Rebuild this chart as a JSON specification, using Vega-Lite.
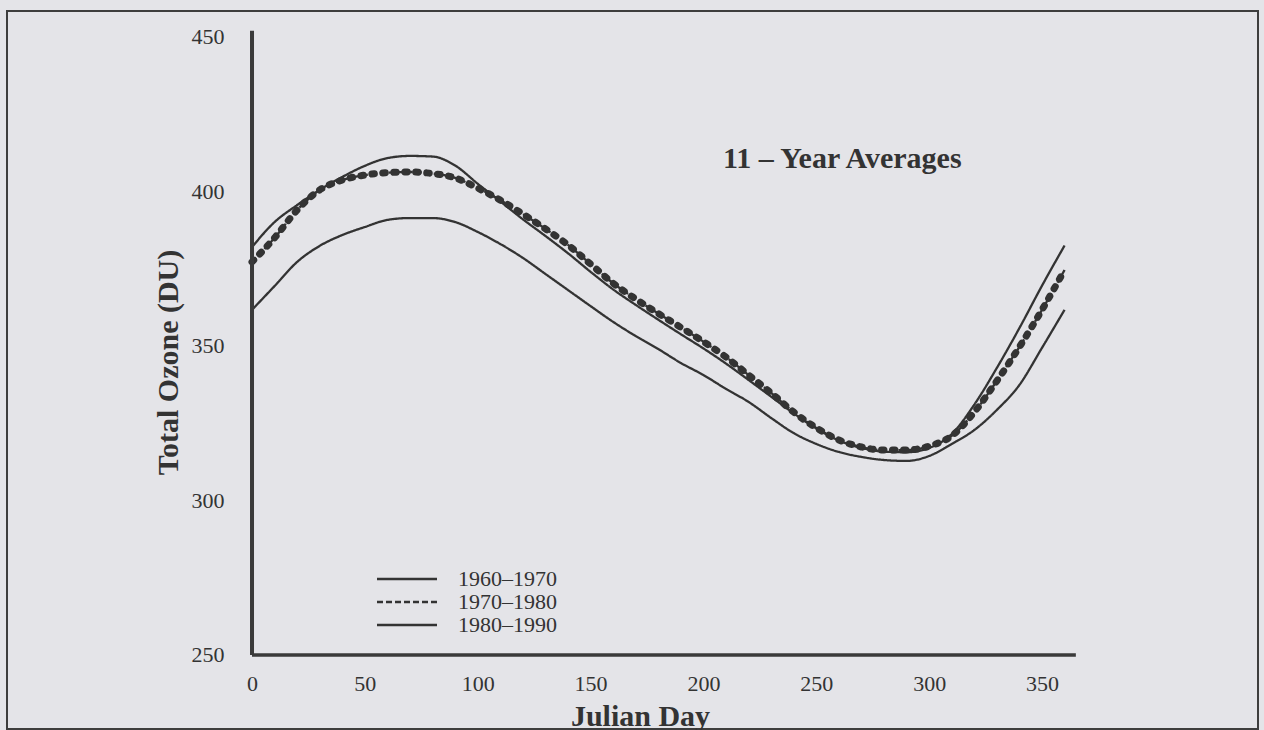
{
  "$schema": "https://vega.github.io/schema/vega-lite/v6.json",
  "width": 1251,
  "height": 718,
  "autosize": {"type": "none"},
  "padding": {"left": 7, "top": 11, "right": 6, "bottom": 1},
  "background": "#e4e4e8",
  "config": {
    "view": {"stroke": "#3d3d3d", "strokeWidth": 2},
    "font": "Liberation Serif",
    "axis": {"labelFont": "Liberation Serif", "titleFont": "Liberation Serif", "labelColor": "#333333", "titleColor": "#333333"}
  },
  "title": {
    "text": "11 – Year Averages",
    "font": "Liberation Serif",
    "fontSize": 30,
    "fontWeight": "bold",
    "color": "#333333",
    "anchor": "start",
    "orient": "top",
    "frame": "group",
    "offset": 0,
    "dx": 716,
    "dy": 187,
    "baseline": "alphabetic"
  },
  "data": {
    "values": [
      {"period": "1960–1970", "day": 0, "ozone": 382.0},
      {"period": "1960–1970", "day": 10, "ozone": 390.1},
      {"period": "1960–1970", "day": 20, "ozone": 395.6},
      {"period": "1960–1970", "day": 30, "ozone": 400.5},
      {"period": "1960–1970", "day": 40, "ozone": 404.7},
      {"period": "1960–1970", "day": 50, "ozone": 408.3},
      {"period": "1960–1970", "day": 60, "ozone": 410.8},
      {"period": "1960–1970", "day": 70, "ozone": 411.5},
      {"period": "1960–1970", "day": 80, "ozone": 411.3},
      {"period": "1960–1970", "day": 90, "ozone": 408.4},
      {"period": "1960–1970", "day": 100, "ozone": 402.5},
      {"period": "1960–1970", "day": 110, "ozone": 396.8},
      {"period": "1960–1970", "day": 120, "ozone": 391.0},
      {"period": "1960–1970", "day": 130, "ozone": 385.6},
      {"period": "1960–1970", "day": 140, "ozone": 380.0},
      {"period": "1960–1970", "day": 150, "ozone": 374.0},
      {"period": "1960–1970", "day": 160, "ozone": 368.3},
      {"period": "1960–1970", "day": 170, "ozone": 363.3},
      {"period": "1960–1970", "day": 180, "ozone": 358.5},
      {"period": "1960–1970", "day": 190, "ozone": 353.8},
      {"period": "1960–1970", "day": 200, "ozone": 349.2},
      {"period": "1960–1970", "day": 210, "ozone": 344.3},
      {"period": "1960–1970", "day": 220, "ozone": 339.0},
      {"period": "1960–1970", "day": 230, "ozone": 333.6},
      {"period": "1960–1970", "day": 240, "ozone": 328.2},
      {"period": "1960–1970", "day": 250, "ozone": 323.3},
      {"period": "1960–1970", "day": 260, "ozone": 319.4},
      {"period": "1960–1970", "day": 270, "ozone": 317.0},
      {"period": "1960–1970", "day": 280, "ozone": 315.8},
      {"period": "1960–1970", "day": 290, "ozone": 315.6},
      {"period": "1960–1970", "day": 300, "ozone": 317.0},
      {"period": "1960–1970", "day": 310, "ozone": 321.5},
      {"period": "1960–1970", "day": 320, "ozone": 331.0},
      {"period": "1960–1970", "day": 330, "ozone": 342.9},
      {"period": "1960–1970", "day": 340, "ozone": 355.8},
      {"period": "1960–1970", "day": 350, "ozone": 369.5},
      {"period": "1960–1970", "day": 360, "ozone": 382.5},
      {"period": "1970–1980", "day": 0, "ozone": 377.2},
      {"period": "1970–1980", "day": 10, "ozone": 385.0},
      {"period": "1970–1980", "day": 20, "ozone": 394.0},
      {"period": "1970–1980", "day": 30, "ozone": 400.5},
      {"period": "1970–1980", "day": 40, "ozone": 403.7},
      {"period": "1970–1980", "day": 50, "ozone": 405.3},
      {"period": "1970–1980", "day": 60, "ozone": 406.1},
      {"period": "1970–1980", "day": 70, "ozone": 406.3},
      {"period": "1970–1980", "day": 80, "ozone": 405.8},
      {"period": "1970–1980", "day": 90, "ozone": 404.4},
      {"period": "1970–1980", "day": 100, "ozone": 401.1},
      {"period": "1970–1980", "day": 110, "ozone": 397.2},
      {"period": "1970–1980", "day": 120, "ozone": 392.7},
      {"period": "1970–1980", "day": 130, "ozone": 387.9},
      {"period": "1970–1980", "day": 140, "ozone": 382.7},
      {"period": "1970–1980", "day": 150, "ozone": 376.5},
      {"period": "1970–1980", "day": 160, "ozone": 370.3},
      {"period": "1970–1980", "day": 170, "ozone": 365.2},
      {"period": "1970–1980", "day": 180, "ozone": 360.5},
      {"period": "1970–1980", "day": 190, "ozone": 356.0},
      {"period": "1970–1980", "day": 200, "ozone": 351.4},
      {"period": "1970–1980", "day": 210, "ozone": 346.4},
      {"period": "1970–1980", "day": 220, "ozone": 340.6},
      {"period": "1970–1980", "day": 230, "ozone": 334.8},
      {"period": "1970–1980", "day": 240, "ozone": 328.6},
      {"period": "1970–1980", "day": 250, "ozone": 323.5},
      {"period": "1970–1980", "day": 260, "ozone": 319.6},
      {"period": "1970–1980", "day": 270, "ozone": 317.3},
      {"period": "1970–1980", "day": 280, "ozone": 316.3},
      {"period": "1970–1980", "day": 290, "ozone": 316.3},
      {"period": "1970–1980", "day": 300, "ozone": 317.6},
      {"period": "1970–1980", "day": 310, "ozone": 320.9},
      {"period": "1970–1980", "day": 320, "ozone": 328.6},
      {"period": "1970–1980", "day": 330, "ozone": 338.7},
      {"period": "1970–1980", "day": 340, "ozone": 349.7},
      {"period": "1970–1980", "day": 350, "ozone": 361.7},
      {"period": "1970–1980", "day": 360, "ozone": 374.6},
      {"period": "1980–1990", "day": 0, "ozone": 361.7},
      {"period": "1980–1990", "day": 10, "ozone": 369.4},
      {"period": "1980–1990", "day": 20, "ozone": 377.2},
      {"period": "1980–1990", "day": 30, "ozone": 382.4},
      {"period": "1980–1990", "day": 40, "ozone": 385.9},
      {"period": "1980–1990", "day": 50, "ozone": 388.5},
      {"period": "1980–1990", "day": 60, "ozone": 390.8},
      {"period": "1980–1990", "day": 70, "ozone": 391.4},
      {"period": "1980–1990", "day": 80, "ozone": 391.4},
      {"period": "1980–1990", "day": 90, "ozone": 390.1},
      {"period": "1980–1990", "day": 100, "ozone": 386.9},
      {"period": "1980–1990", "day": 110, "ozone": 383.0},
      {"period": "1980–1990", "day": 120, "ozone": 378.5},
      {"period": "1980–1990", "day": 130, "ozone": 373.3},
      {"period": "1980–1990", "day": 140, "ozone": 368.1},
      {"period": "1980–1990", "day": 150, "ozone": 362.9},
      {"period": "1980–1990", "day": 160, "ozone": 357.8},
      {"period": "1980–1990", "day": 170, "ozone": 353.2},
      {"period": "1980–1990", "day": 180, "ozone": 349.0},
      {"period": "1980–1990", "day": 190, "ozone": 344.5},
      {"period": "1980–1990", "day": 200, "ozone": 340.6},
      {"period": "1980–1990", "day": 210, "ozone": 336.1},
      {"period": "1980–1990", "day": 220, "ozone": 331.9},
      {"period": "1980–1990", "day": 230, "ozone": 326.7},
      {"period": "1980–1990", "day": 240, "ozone": 321.8},
      {"period": "1980–1990", "day": 250, "ozone": 318.3},
      {"period": "1980–1990", "day": 260, "ozone": 315.7},
      {"period": "1980–1990", "day": 270, "ozone": 314.1},
      {"period": "1980–1990", "day": 280, "ozone": 313.1},
      {"period": "1980–1990", "day": 290, "ozone": 312.8},
      {"period": "1980–1990", "day": 300, "ozone": 314.4},
      {"period": "1980–1990", "day": 310, "ozone": 318.3},
      {"period": "1980–1990", "day": 320, "ozone": 322.8},
      {"period": "1980–1990", "day": 330, "ozone": 329.3},
      {"period": "1980–1990", "day": 340, "ozone": 337.4},
      {"period": "1980–1990", "day": 350, "ozone": 349.4},
      {"period": "1980–1990", "day": 360, "ozone": 361.7}
    ]
  },
  "layer": [
    {
      "mark": {"type": "line", "interpolate": "monotone", "color": "#333333", "strokeWidth": 2.3},
      "encoding": {
        "x": {
          "field": "day", "type": "quantitative",
          "scale": {"domain": [-108.55, 445.7], "nice": false, "zero": false},
          "axis": {
            "values": [0, 50, 100, 150, 200, 250, 300, 350],
            "offset": -74, "domain": false, "ticks": false, "grid": false,
            "labelFontSize": 22, "labelPadding": 18, "labelFlush": false, "labelOverlap": false,
            "title": "Julian Day", "titleFontSize": 30, "titleFontWeight": "bold",
            "titleX": 633, "titleY": 70, "titleBaseline": "alphabetic", "titleAlign": "center"
          }
        },
        "y": {
          "field": "ozone", "type": "quantitative",
          "scale": {"domain": [226.05, 458.4], "nice": false, "zero": false},
          "axis": {
            "values": [250, 300, 350, 400, 450],
            "offset": -245, "domain": false, "ticks": false, "grid": false,
            "labelFontSize": 22, "labelPadding": 28, "labelFlush": false, "labelOverlap": false,
            "title": "Total Ozone (DU)", "titleFontSize": 30, "titleFontWeight": "bold",
            "titleX": -84, "titleY": 351, "titleBaseline": "middle", "titleAlign": "center", "titleAngle": -90
          }
        },
        "strokeDash": {
          "field": "period", "type": "nominal",
          "scale": {"domain": ["1960–1970", "1970–1980", "1980–1990"], "range": [[1, 0], [6, 3], [1, 0]]},
          "legend": {
            "title": null, "orient": "none", "legendX": 389, "legendY": 557, "padding": 0,
            "symbolType": "M-4,0H4", "symbolSize": 225, "symbolStrokeWidth": 2.5, "symbolStrokeColor": "#333333",
            "labelFont": "Liberation Serif", "labelFontSize": 22, "labelColor": "#333333",
            "labelOffset": 40, "rowPadding": 1
          }
        }
      }
    },
    {
      "transform": [{"filter": "datum.period === '1970–1980'"}],
      "mark": {"type": "line", "interpolate": "monotone", "color": "#333333", "strokeWidth": 7, "strokeDash": [2.5, 8.5], "strokeCap": "round"},
      "encoding": {
        "x": {"field": "day", "type": "quantitative"},
        "y": {"field": "ozone", "type": "quantitative"}
      }
    },
    {
      "data": {"values": [{}]},
      "mark": {"type": "rule", "color": "#3a3a3a", "strokeWidth": 4},
      "encoding": {
        "x": {"datum": 0},
        "y": {"datum": 250},
        "y2": {"datum": 452}
      }
    },
    {
      "data": {"values": [{}]},
      "mark": {"type": "rule", "color": "#3a3a3a", "strokeWidth": 3.5},
      "encoding": {
        "x": {"datum": 0},
        "x2": {"datum": 365},
        "y": {"datum": 250}
      }
    }
  ]
}
